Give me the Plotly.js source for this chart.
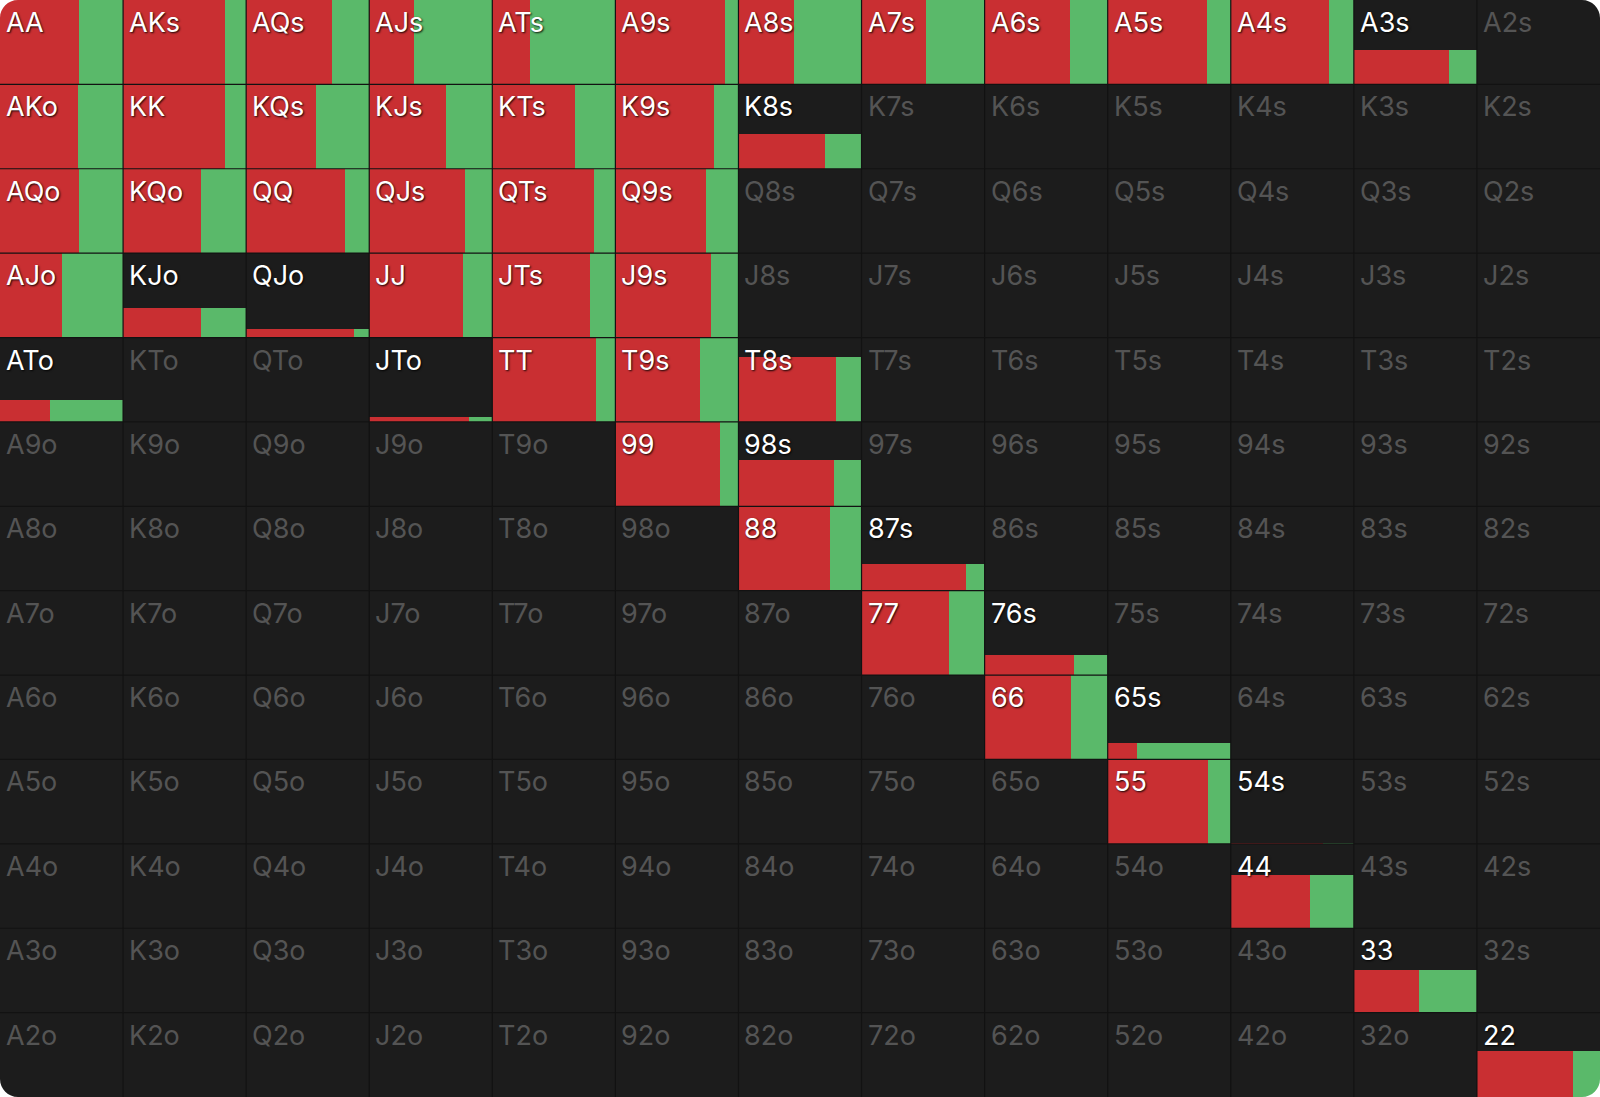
<!DOCTYPE html>
<html>
<head>
<meta charset="utf-8">
<script src="https://cdn.plot.ly/plotly-3.0.1.min.js"></script>
<style>
  html, body { margin: 0; padding: 0; background: #ffffff; }
  #chart { width: 1600px; height: 1097px; }
</style>
</head>
<body>
<div id="chart"></div>
<script>
// Card ranks (row / column order of the grid)
const ranks = ['A','K','Q','J','T','9','8','7','6','5','4','3','2'];

// Hands that are played, how often (bar height, 0..1) and the raise share (red part of width)
const hands = ['AA','AKs','AQs','AJs','ATs','A9s','A8s','A7s','A6s','A5s','A4s','A3s',
               'AKo','KK','KQs','KJs','KTs','K9s','K8s',
               'AQo','KQo','QQ','QJs','QTs','Q9s',
               'AJo','KJo','QJo','JJ','JTs','J9s',
               'ATo','JTo','TT','T9s','T8s',
               '99','98s','88','87s','77','76s','66','65s','55','54s','44','33','22'];
const playFreq = [1,1,1,1,1,1,1,1,1,1,1,0.41,
                  1,1,1,1,1,1,0.415,
                  1,1,1,1,1,1,
                  1,0.35,0.10,1,1,1,
                  0.26,0.06,1,1,0.765,
                  1,0.545,1,0.32,1,0.24,1,0.19,1,0.005,0.63,0.51,0.55];
const raiseShare = [0.64,0.825,0.70,0.36,0.31,0.89,0.45,0.52,0.69,0.81,0.80,0.77,
                    0.63,0.83,0.57,0.62,0.67,0.80,0.70,
                    0.645,0.63,0.80,0.78,0.83,0.74,
                    0.50,0.63,0.88,0.76,0.79,0.78,
                    0.41,0.81,0.84,0.69,0.79,
                    0.85,0.78,0.74,0.85,0.71,0.73,0.70,0.24,0.815,0.75,0.64,0.53,0.78];

const RED = '#c92f32';
const GREEN = '#5ab96a';
const BG = '#1c1c1c';
const N = ranks.length;
const W = 1600, H = 1097, RADIUS = 18;

function handName(r, c) {
  if (r === c) return ranks[r] + ranks[c];
  if (c > r) return ranks[r] + ranks[c] + 's';
  return ranks[c] + ranks[r] + 'o';
}
function cellOf(name) {
  for (let r = 0; r < N; r++) for (let c = 0; c < N; c++) if (handName(r, c) === name) return [r, c];
  return null;
}

const red = {x: [], y: [], base: [], width: []};
const green = {x: [], y: [], base: [], width: []};
hands.forEach((h, i) => {
  const [r, c] = cellOf(h);
  const f = playFreq[i], s = raiseShare[i];
  const bottom = N - 1 - r;
  red.x.push(c + s / 2); red.width.push(s); red.base.push(bottom); red.y.push(f);
  green.x.push(c + s + (1 - s) / 2); green.width.push(1 - s); green.base.push(bottom); green.y.push(f);
});

const traces = [
  {type: 'bar', x: red.x, y: red.y, base: red.base, width: red.width,
   marker: {color: RED, line: {width: 0}}, hoverinfo: 'skip', showlegend: false},
  {type: 'bar', x: green.x, y: green.y, base: green.base, width: green.width,
   marker: {color: GREEN, line: {width: 0}}, hoverinfo: 'skip', showlegend: false}
];

const annotations = [];
for (let r = 0; r < N; r++) {
  for (let c = 0; c < N; c++) {
    const name = handName(r, c);
    const active = hands.indexOf(name) >= 0;
    annotations.push({
      x: c, y: N - r, xref: 'x', yref: 'y',
      xanchor: 'left', yanchor: 'top', xshift: 4, yshift: -4,
      text: name, showarrow: false,
      font: active
        ? {family: 'Inter, Roboto, sans-serif', size: 27, color: '#ffffff', shadow: '1px 1px 2px rgba(0,0,0,0.9)'}
        : {family: 'Inter, Roboto, sans-serif', size: 27, color: '#545454'}
    });
  }
}

const shapes = [];
for (let i = 1; i < N; i++) {
  shapes.push({type: 'line', xref: 'x', yref: 'y', x0: i, x1: i, y0: 0, y1: N, layer: 'above',
               line: {color: '#121212', width: 1.2}});
  shapes.push({type: 'line', xref: 'x', yref: 'y', x0: 0, x1: N, y0: i, y1: i, layer: 'above',
               line: {color: '#121212', width: 1.2}});
}

// white rounded-corner masks, in axis units (one unit = one cell)
const rx = RADIUS * N / W, ry = RADIUS * N / H, k = 0.5523;
function corner(cx, cy, sx, sy) {
  const ax = cx + sx * rx, ay = cy;
  const bx = cx, by = cy + sy * ry;
  const c1x = cx + sx * rx * (1 - k), c1y = cy;
  const c2x = cx, c2y = cy + sy * ry * (1 - k);
  return 'M ' + cx + ',' + cy + ' L ' + ax.toFixed(5) + ',' + ay + ' C ' + c1x.toFixed(5) + ',' + c1y + ' ' +
         c2x + ',' + c2y.toFixed(5) + ' ' + bx + ',' + by.toFixed(5) + ' Z';
}
[[0, N, 1, -1], [N, N, -1, -1], [0, 0, 1, 1], [N, 0, -1, 1]].forEach(p => {
  shapes.push({type: 'path', xref: 'x', yref: 'y', path: corner(p[0], p[1], p[2], p[3]),
               fillcolor: '#ffffff', line: {width: 0}, layer: 'above'});
});

const layout = {
  width: W, height: H,
  margin: {l: 0, r: 0, t: 0, b: 0, pad: 0},
  paper_bgcolor: BG, plot_bgcolor: BG,
  barmode: 'overlay', bargap: 0,
  xaxis: {range: [0, N], visible: false, fixedrange: true},
  yaxis: {range: [0, N], visible: false, fixedrange: true},
  annotations: annotations,
  shapes: shapes,
  showlegend: false
};

Plotly.newPlot('chart', traces, layout, {staticPlot: true, displayModeBar: false});
</script>
</body>
</html>
